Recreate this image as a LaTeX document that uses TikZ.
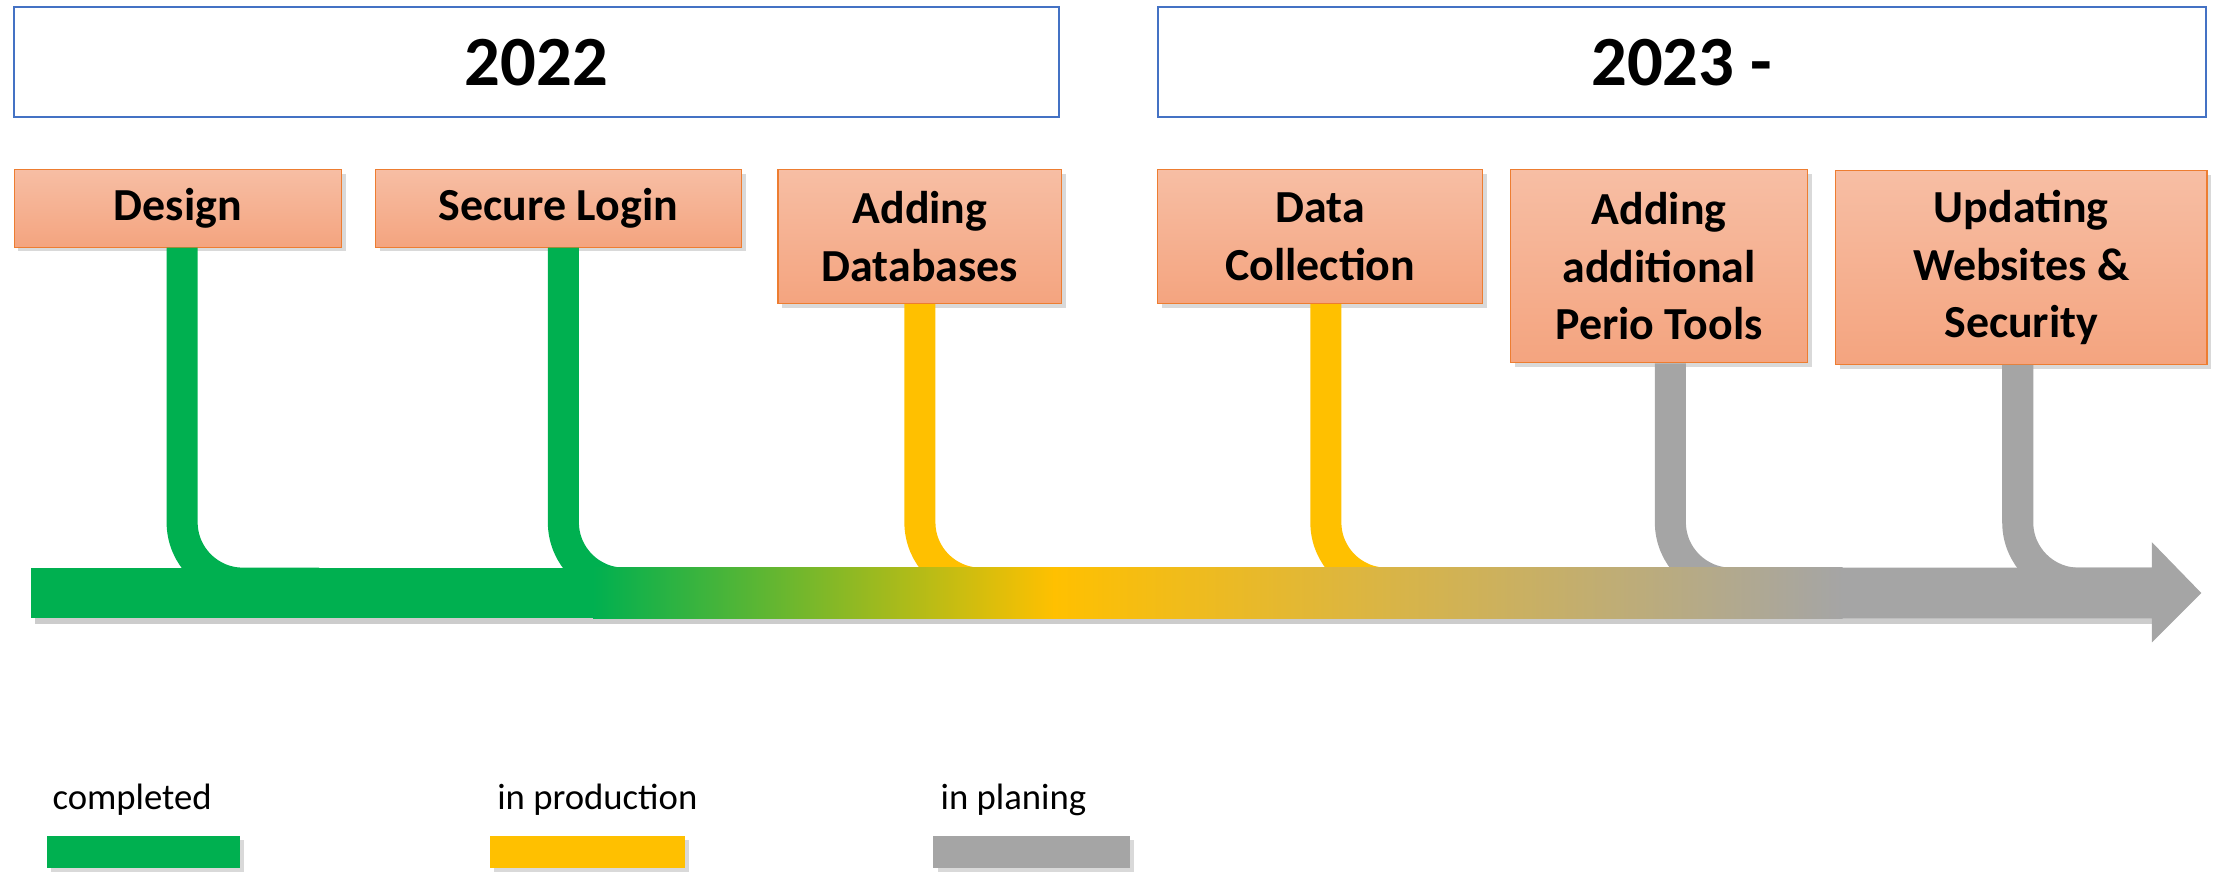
\documentclass[tikz,border=0pt]{standalone}
\usepackage{fontspec}
\setmainfont{Carlito}
\usetikzlibrary{shadows}

\definecolor{done}{HTML}{00B050}
\definecolor{prod}{HTML}{FFC000}
\definecolor{plan}{HTML}{A5A5A5}
\definecolor{boxtop}{HTML}{F7BEA4}
\definecolor{boxbot}{HTML}{F4A47F}
\definecolor{boxline}{HTML}{ED7D31}
\definecolor{yearline}{HTML}{4472C4}

\begin{document}
\begin{tikzpicture}[x=1pt, y=-1pt,
        year/.style={draw=yearline, line width=1.5pt, fill=white, minimum height=78pt,
            font=\fontsize{50}{60}\selectfont\bfseries},
        task/.style={draw=boxline, line width=0.8pt, top color=boxtop, bottom color=boxbot,
            align=center, inner sep=2pt, font=\fontsize{32.5}{41}\selectfont\bfseries,
            drop shadow={shadow xshift=3pt, shadow yshift=-3pt, opacity=0.3}},
        stem/.style={line width=22pt, rounded corners=43pt},
        key/.style={anchor=base west, inner sep=0pt, font=\fontsize{26}{30}\selectfont},
        swatch/.style={drop shadow={shadow xshift=3pt, shadow yshift=-3pt, opacity=0.3}}]

            \useasboundingbox (0,0) rectangle (1568,617);

            % years
            \node[year, minimum width=740pt] (y22) at (380,44) {2022};
            \node[year, minimum width=742pt] (y23) at (1191,44) {2023 -};

            % tasks
            \node[task, minimum width=232pt, minimum height=55pt] (design) at (126,147.5) {Design};
            \node[task, minimum width=259pt, minimum height=55pt] (login) at (395.5,147.5) {Secure Login};
            \node[task, minimum width=201pt, minimum height=95pt] (dbs) at (651.5,167.5) {Adding\\Databases};
            \node[task, minimum width=230pt, minimum height=95pt] (data) at (935,167.5) {Data\\Collection};
            \node[task, minimum width=210pt, minimum height=137pt] (perio) at (1175,188.5) {Adding\\additional\\Perio Tools};
            \node[task, minimum width=263pt, minimum height=137pt] (update) at (1431.5,189.5) {Updating\\Websites \&\\Security};

            % stems down to the time line
            \coordinate (bend) at (0,413);
            \draw[stem, done] ([xshift=3pt]design.south) |- ([xshift=100pt]design.south |- bend);
            \draw[stem, done] ([xshift=3.5pt]login.south) |- ([xshift=100pt]login.south |- bend);
            \draw[stem, prod] (dbs.south) |- ([xshift=100pt]dbs.south |- bend);
            \draw[stem, prod] ([xshift=4pt]data.south) |- ([xshift=100pt]data.south |- bend);
            \draw[stem, plan] ([xshift=8pt]perio.south) |- ([xshift=100pt]perio.south |- bend);
            \draw[stem, plan] ([xshift=-2.5pt]update.south) |- ([xshift=100pt]update.south |- bend);

            % time line
            \fill[black, opacity=0.2] (25,406) rectangle (1526,442);
            \fill[done] (22,402) rectangle (421,438);
            \shade[left color=done, right color=prod] (420,402) rectangle (747,438);
            \shade[left color=prod, right color=plan] (746,402) rectangle (1305,438);
            \fill[plan] (1304,402) -- (1524,402) -- (1524,384) -- (1559,420)
                -- (1524,455) -- (1524,438) -- (1304,438) -- cycle;

            % legend
            \node[key] (kdone) at (37,573) {completed};
            \node[key] (kprod) at (352,573) {in production};
            \node[key] (kplan) at (666,573) {in planing};
            \fill[done, swatch] (33,592) rectangle (170,615);
            \fill[prod, swatch] (347,592) rectangle (485,615);
            \fill[plan, swatch] (661,592) rectangle (800,615);
        \end{tikzpicture}
\end{document}
